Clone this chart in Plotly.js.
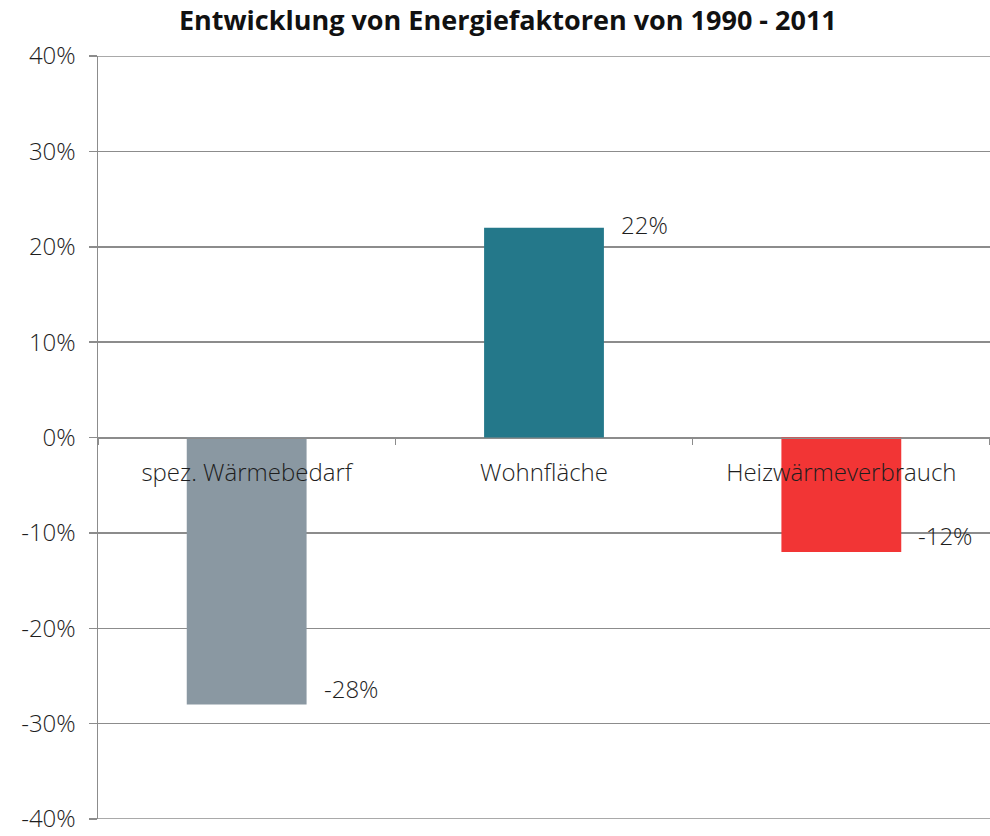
<!DOCTYPE html>
<html>
<head>
<meta charset="utf-8">
<script src="https://cdn.plot.ly/plotly-3.0.1.min.js"></script>
<style>html,body{margin:0;padding:0;background:#fff;}</style>
</head>
<body>
<div id="chart" style="width:990px;height:836px;"></div>
<script>
const categories = ["spez. Wärmebedarf", "Wohnfläche", "Heizwärmeverbrauch"];
const values = [-0.28, 0.22, -0.12];
const barColors = ["#8A98A2", "#24788A", "#F23535"];
const labelTexts = ["-28%", "22%", "-12%"];
const yTickVals = [-0.4, -0.3, -0.2, -0.1, 0, 0.1, 0.2, 0.3, 0.4];
const yTickText = ["-40%", "-30%", "-20%", "-10%", "0%", "10%", "20%", "30%", "40%"];

const fontFam = "'Open Sans', 'Noto Sans', sans-serif";
const txtFont = {family: fontFam, size: 24, color: "#1e1e1e", weight: 300};
const gridColor = "#8c8c8c";

const trace = {
  type: "bar",
  x: categories,
  y: values,
  width: 0.403,
  marker: {color: barColors},
  hoverinfo: "none"
};

const annotations = values.map((v, i) => ({
  x: i + 0.2015,
  y: v,
  xref: "x",
  yref: "y",
  text: labelTexts[i],
  showarrow: false,
  xanchor: "left",
  yanchor: "middle",
  xshift: 15,
  yshift: v < 0 ? 16 : 3,
  font: txtFont
}));

// edge gridlines (plotly drops gridlines lying on the range ends)
const edgeLines = [yTickVals[0], yTickVals[yTickVals.length - 1]].map(v => ({
  type: "line", xref: "paper", yref: "y",
  x0: 0, x1: 1, y0: v, y1: v,
  line: {color: gridColor, width: 1.5},
  layer: "below"
}));

const layout = {
  width: 990,
  height: 836,
  margin: {l: 98, r: 0, t: 56, b: 17},
  paper_bgcolor: "#fff",
  plot_bgcolor: "#fff",
  showlegend: false,
  title: {
    text: "<b>Entwicklung von Energiefaktoren von 1990 - 2011</b>",
    x: 0.513, xanchor: "center", y: 0.975, yanchor: "middle",
    font: {family: "'Open Sans', sans-serif", size: 27, color: "#111"}
  },
  xaxis: {
    type: "category",
    anchor: "free",
    position: 0.5,
    range: [-0.5, 2.5],
    showgrid: false,
    zeroline: false,
    showline: true,
    linecolor: gridColor,
    linewidth: 1.5,
    ticks: "outside",
    tickson: "boundaries",
    ticklen: 6,
    tickcolor: gridColor,
    tickwidth: 1.5,
    ticklabelstandoff: 13,
    tickfont: txtFont
  },
  yaxis: {
    range: [-0.4, 0.4],
    tickvals: yTickVals,
    ticktext: yTickText,
    ticklabeloverflow: "allow",
    showgrid: true,
    gridcolor: gridColor,
    gridwidth: 1.5,
    zeroline: false,
    showline: true,
    linecolor: gridColor,
    linewidth: 1.5,
    ticks: "outside",
    ticklen: 8,
    tickcolor: gridColor,
    tickwidth: 1.5,
    ticklabelstandoff: 8,
    tickfont: txtFont
  },
  shapes: edgeLines,
  annotations: annotations
};

Plotly.newPlot("chart", [trace], layout, {displayModeBar: false, staticPlot: true});
</script>
</body>
</html>
